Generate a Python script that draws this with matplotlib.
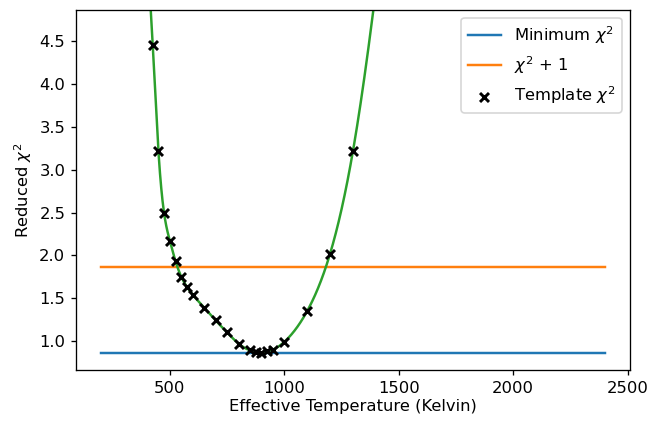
import matplotlib
matplotlib.use('Agg')
import matplotlib.pyplot as plt
import numpy as np

# template temperatures (K) and reduced chi^2
temps = [400, 425, 450, 475, 500, 525, 550, 575, 600, 650, 700, 750, 800,
         850, 875, 900, 925, 950, 1000, 1100, 1200, 1300, 1400, 1500]
chi2 = [5.6, 4.46, 3.22, 2.49, 2.17, 1.93, 1.75, 1.63, 1.54, 1.39, 1.24, 1.10, 0.97,
        0.89, 0.87, 0.864, 0.88, 0.90, 0.99, 1.35, 2.02, 3.22, 5.1, 7.4]

min_chi2 = 0.864
line_x = [200, 2400]


def natural_spline(x, y, xs):
    # natural cubic spline through (x, y), evaluated at xs
    x = np.asarray(x, float)
    y = np.asarray(y, float)
    n = len(x)
    h = np.diff(x)
    A = np.zeros((n, n))
    b = np.zeros(n)
    A[0, 0] = A[-1, -1] = 1
    for i in range(1, n - 1):
        A[i, i - 1] = h[i - 1]
        A[i, i] = 2 * (h[i - 1] + h[i])
        A[i, i + 1] = h[i]
        b[i] = 6 * ((y[i + 1] - y[i]) / h[i] - (y[i] - y[i - 1]) / h[i - 1])
    M = np.linalg.solve(A, b)
    idx = np.clip(np.searchsorted(x, xs) - 1, 0, n - 2)
    t0 = xs - x[idx]
    t1 = x[idx + 1] - xs
    hh = h[idx]
    return (M[idx] * t1**3 / (6 * hh) + M[idx + 1] * t0**3 / (6 * hh)
            + (y[idx] / hh - M[idx] * hh / 6) * t1
            + (y[idx + 1] / hh - M[idx + 1] * hh / 6) * t0)


xs = np.linspace(temps[0], temps[-1], 600)
ys = natural_spline(temps, chi2, xs)

dpi = 118
fig, ax = plt.subplots(figsize=(661 / dpi, 422 / dpi), dpi=dpi)
fig.subplots_adjust(left=0.115, right=0.953, top=0.977, bottom=0.123)

ax.plot(line_x, [min_chi2, min_chi2], color='C0', label=r'Minimum $\chi^2$')
ax.plot(line_x, [min_chi2 + 1, min_chi2 + 1], color='C1', label=r'$\chi^2$ + 1')
ax.plot(xs, ys, color='C2')
ax.scatter(temps, chi2, marker='x', color='black', s=30, linewidths=1.8,
           label=r'Template $\chi^2$', zorder=3)

ax.set_ylim(0.66, 4.87)
ax.tick_params(length=3)
ax.set_xlabel('Effective Temperature (Kelvin)', labelpad=2)
ax.set_ylabel(r'Reduced $\chi^2$', labelpad=3)
ax.legend(loc='upper right')

plt.savefig('out.png', dpi=dpi)
